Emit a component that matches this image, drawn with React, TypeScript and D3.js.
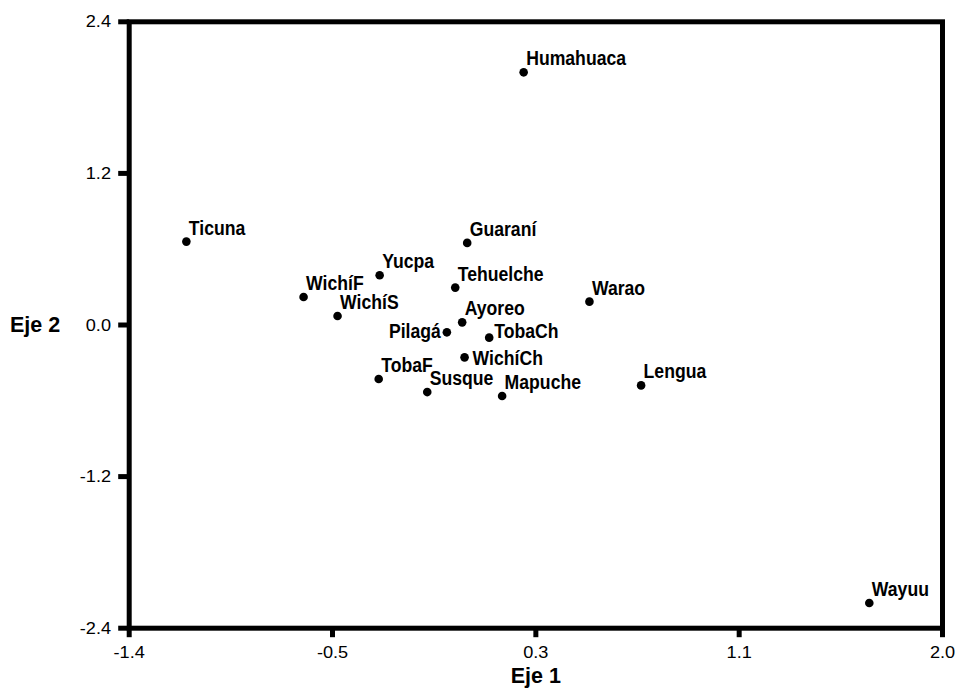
import React from "react";
import * as d3 from "d3";

const names = ["Humahuaca","Ticuna","Guaraní","Yucpa","WichíF","Tehuelche","Warao","WichíS","Ayoreo","Pilagá","TobaCh","WichíCh","TobaF","Lengua","Susque","Mapuche","Wayuu"];
const eje1 = [0.249,-1.161,0.013,-0.353,-0.671,-0.037,0.524,-0.529,-0.008,-0.072,0.105,0.002,-0.357,0.740,-0.154,0.159,1.694];
const eje2 = [2.00,0.66,0.65,0.394,0.222,0.296,0.185,0.071,0.021,-0.058,-0.10,-0.256,-0.428,-0.478,-0.531,-0.562,-2.20];

const xTicks = [-1.4,-0.55,0.3,1.15,2.0];
const xTickLabels = ["-1.4","-0.5","0.3","1.1","2.0"];
const yTicks = [-2.4,-1.2,0,1.2,2.4];
const yTickLabels = ["-2.4","-1.2","0.0","1.2","2.4"];

// label placement (style only)
const placement: Record<string, [number, number, string]> = {
  "Pilagá": [-6, 6, "end"],
  "WichíCh": [8, 8, "start"],
  "TobaCh": [5, 0, "start"],
};

export default function App() {
  const W = 958, H = 693;
  const L = 129.2, R = 942.5, T = 21.8, B = 628.2;
  const x = d3.scaleLinear().domain([-1.4, 2.0]).range([L, R]);
  const y = d3.scaleLinear().domain([-2.4, 2.4]).range([B, T]);
  const font = "'Liberation Sans', Arial, Helvetica, sans-serif";
  const sw = 5;
  return (
    <svg width={W} height={H} style={{ position: "absolute", left: 0, top: 0, background: "#fff" }} fontFamily={font}>
      <rect x={0} y={0} width={W} height={H} fill="#fff" />
      {/* frame */}
      <rect x={L} y={T} width={R - L} height={B - T} fill="none" stroke="#000" strokeWidth={sw} />
      {/* x ticks */}
      {xTicks.map((v, i) => (
        <g key={"xt" + i}>
          <line x1={x(v)} x2={x(v)} y1={B} y2={B + 9} stroke="#000" strokeWidth={sw} />
          <text transform={`translate(${x(v)},658) scale(1.1,1)`} textAnchor="middle" fontSize={16.5} fill="#000">{xTickLabels[i]}</text>
        </g>
      ))}
      {/* y ticks */}
      {yTicks.map((v, i) => (
        <g key={"yt" + i}>
          <line x1={L - 11} x2={L} y1={y(v)} y2={y(v)} stroke="#000" strokeWidth={sw} />
          <text transform={`translate(111,${y(v) + 5.5}) scale(1.1,1)`} textAnchor="end" fontSize={16.5} fill="#000">{yTickLabels[i]}</text>
        </g>
      ))}
      {/* axis titles */}
      <text x={(L + R) / 2} y={683} textAnchor="middle" fontSize={21.5} fontWeight="bold" fill="#000">Eje 1</text>
      <text x={10} y={331.5} textAnchor="start" fontSize={21.5} fontWeight="bold" fill="#000">Eje 2</text>
      {/* points */}
      {names.map((n, i) => {
        const px = x(eje1[i]), py = y(eje2[i]);
        const p = placement[n] || [2.5, -7, "start"];
        return (
          <g key={n}>
            <circle cx={px} cy={py} r={4.3} fill="#000" />
            <text transform={`translate(${px + p[0]},${py + p[1]}) scale(0.84,1)`} textAnchor={p[2]} fontSize={21} fontWeight="bold" fill="#000">{n}</text>
          </g>
        );
      })}
    </svg>
  );
}
